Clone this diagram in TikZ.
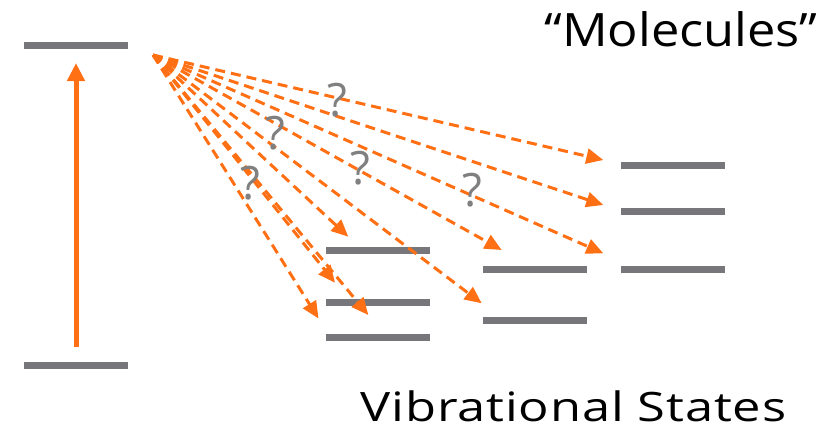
\documentclass[tikz,border=0pt]{standalone}
\usepackage{fontspec}
\setmainfont{Open Sans}
\newfontfamily\molfont[FakeStretch=1.1]{Open Sans}
\newfontfamily\vibfont[FakeStretch=1.25,LetterSpace=2]{Open Sans}
\usetikzlibrary{arrows.meta}

\definecolor{levelgray}{HTML}{77777B}
\definecolor{photon}{HTML}{FF7015}

\tikzset{
  level/.style={fill=levelgray, minimum width=104pt, minimum height=7pt, inner sep=0pt, outer sep=0pt},
  pump/.style={photon, line width=5pt, -{Triangle[length=18pt,width=17pt]}},
  decay/.style={photon, line width=3pt, dash pattern=on 10pt off 6pt, -{Triangle[length=17pt,width=15pt]}},
  qmark/.style={text=gray, font=\fontsize{46}{46}\selectfont, inner sep=0pt}
}

\begin{document}
\begin{tikzpicture}[x=1pt,y=-1pt]
\useasboundingbox (0,0) rectangle (838,429);

% Electronic levels
\node[level] (up) at (76,45) {};
\node[level] (down) at (76,365) {};

% Excitation
\coordinate (pumpfoot) at (76,347);
\coordinate (pumptip) at (76,63);
\draw[pump] (pumpfoot) -- (pumptip);

% Vibrational levels, three molecules
\node[level] (a1) at (377.5,250.7) {};
\node[level] (a2) at (377.5,302.3) {};
\node[level] (a3) at (377.5,337) {};
\node[level] (b1) at (535,269.3) {};
\node[level] (b2) at (535,320) {};
\node[level] (c1) at (673.3,165.3) {};
\node[level] (c2) at (673.3,211) {};
\node[level] (c3) at (673.3,269.3) {};

% Relaxation paths
\coordinate (src) at (153,55);
\coordinate (t1) at (603.3,160);
\coordinate (t2) at (603.3,205);
\coordinate (t3) at (603.3,253.3);
\coordinate (t4) at (501.7,250);
\coordinate (t5) at (481.7,303.3);
\coordinate (t6) at (348.3,236.7);
\coordinate (t7) at (335,282.7);
\coordinate (t8) at (368.3,315);
\coordinate (t9) at (318.5,318.5);
\foreach \t in {t1,t2,t3,t4,t5,t6,t7,t8,t9}
  \draw[decay] (src) -- (\t);

% Question marks
\node[qmark] (q1) at (337,100) {?};
\node[qmark] (q2) at (275,133) {?};
\node[qmark] (q3) at (360,168) {?};
\node[qmark] (q4) at (250,183) {?};
\node[qmark] (q5) at (472,190) {?};

% Labels
\node[anchor=base, inner sep=0pt, font=\molfont\fontsize{46}{46}\selectfont] (mol) at (681,46.7) {“Molecules”};
\node[anchor=base, inner sep=0pt, font=\vibfont\fontsize{40.5}{40.5}\selectfont] (vib) at (573.5,421.7) {Vibrational States};

\end{tikzpicture}
\end{document}
